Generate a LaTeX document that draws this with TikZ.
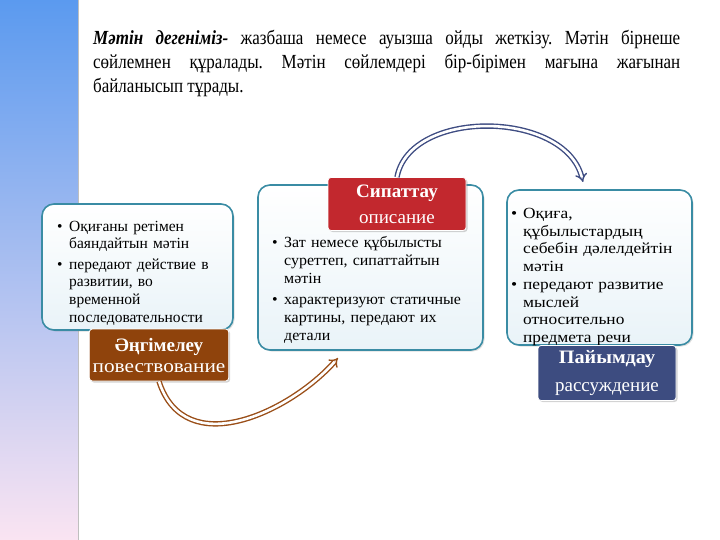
\documentclass[tikz,border=0pt]{standalone}
\usepackage{fontspec}
\setmainfont{Liberation Serif}
\newfontfamily\titlefont{Liberation Serif}[FakeStretch=0.85]
\newfontfamily\widea{Liberation Serif}[FakeStretch=1.03]
\newfontfamily\wideb{Liberation Serif}[FakeStretch=1.12]
\usetikzlibrary{arrows.meta,shadows}
\definecolor{bandtop}{HTML}{5B9AEF}
\definecolor{bandmid}{HTML}{A9CCF0}
\definecolor{bandbot}{HTML}{FAE4F2}
\definecolor{tealb}{HTML}{3A8CA4}
\definecolor{boxbot}{HTML}{E9F3F8}
\definecolor{brownl}{HTML}{8F430C}
\definecolor{redl}{HTML}{C2282E}
\definecolor{navyl}{HTML}{3D4C80}
\definecolor{navya}{HTML}{3E4C82}
\definecolor{browna}{HTML}{9A4E18}
\newlength\bind \setlength\bind{12pt}
\newcommand\bitem[1]{\par\noindent\hangindent=\bind\hangafter=1\makebox[\bind][l]{\textbullet}#1\par}
\tikzset{
  box/.style={draw=tealb, line width=1.6pt, rounded corners=12pt, top color=white, bottom color=boxbot,
    drop shadow={shadow xshift=1.5pt, shadow yshift=-1.5pt, opacity=0.25}},
  lab/.style={rounded corners=3pt, draw=white, line width=0.8pt, text=white, align=center,
    drop shadow={shadow xshift=1.5pt, shadow yshift=-1.5pt, opacity=0.35}},
  btext/.style={anchor=base west, inner sep=0pt, text width=220pt, align=left},
  darr/.style={line width=1.4pt, double=white, double distance=2.6pt, -{Implies}},
}
\begin{document}
\begin{tikzpicture}[x=1pt,y=-1pt]
\useasboundingbox (0,0) rectangle (720,540);
\shade[top color=bandtop, middle color=bandmid, bottom color=bandbot] (0,0) rectangle (78,540);
\draw[black!25, line width=1pt] (78.5,0) -- (78.5,540);

\node[anchor=base west, inner sep=0pt, text width=587pt, align=justify,
  font=\titlefont\fontsize{20}{23.7}\selectfont] (title) at (93,45)
  {\frenchspacing\hyphenpenalty=10000\textbf{\textit{Мәтін дегеніміз-}} жазбаша немесе ауызша ойды жеткізу. Мәтін бірнеше\linebreak
   сөйлемнен құралады. Мәтін сөйлемдері бір-бірімен мағына жағынан\linebreak
   байланысып тұрады.};

% boxes
\node[box, minimum width=191pt, minimum height=126pt] (b1) at (137.5,267) {};
\node[box, minimum width=225pt, minimum height=165pt] (b2) at (370.5,267.5) {};
\node[box, minimum width=185pt, minimum height=155pt] (b3) at (599.5,267.5) {};

% box texts
\node[btext, font=\fontsize{15.5}{17.5}\selectfont] (t1) at (57,210) {\setlength{\parskip}{3.5pt}%
  \bitem{Оқиғаны ретімен\newline баяндайтын мәтін}
  \bitem{передают действие в\newline развитии, во\newline временной\newline последовательности}};
\node[btext, font=\widea\fontsize{15.5}{18}\selectfont] (t2) at (272,226) {\setlength{\parskip}{3pt}%
  \bitem{Зат немесе құбылысты\newline суреттеп, сипаттайтын\newline мәтін}
  \bitem{характеризуют статичные\newline картины, передают их\newline детали}};
\node[btext, font=\wideb\fontsize{15.5}{17.6}\selectfont] (t3) at (511,200.5) {\setlength{\parskip}{0.5pt}%
  \bitem{Оқиға,\newline құбылыстардың\newline себебін дәлелдейтін\newline мәтін}
  \bitem{передают развитие\newline мыслей\newline относительно\newline предмета речи}};

% labels
\node[lab, fill=brownl, minimum width=138pt, minimum height=52pt,
  font=\fontsize{19}{21}\selectfont] (l1) at (159,355)
  {\textbf{Әңгімелеу}\\\scalebox{1.12}[1]{повествование}};
\node[lab, fill=redl, minimum width=138pt, minimum height=53pt,
  font=\fontsize{19}{26}\selectfont] (l2) at (397,204)
  {\textbf{Сипаттау}\\описание};
\node[lab, fill=navyl, minimum width=138pt, minimum height=55pt,
  font=\fontsize{19}{28}\selectfont] (l3) at (607,373)
  {\scalebox{1.06}[1]{\textbf{Пайымдау}}\\рассуждение};

% arrows
\coordinate (e1) at (583,182);
\coordinate (e2) at (338,358);
\draw[darr, draw=navya] (l2.north) .. controls (410,108) and (565,110) .. (e1);
\draw[darr, draw=browna] (l1.south) .. controls (185,462) and (290,412) .. (e2);
\end{tikzpicture}
\end{document}
